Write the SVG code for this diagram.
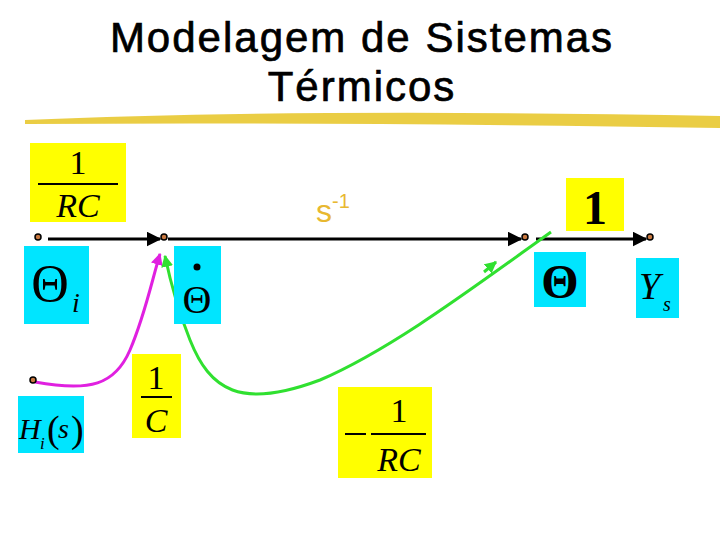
<svg xmlns="http://www.w3.org/2000/svg" width="720" height="540" viewBox="0 0 720 540">
<style>
.t{font-family:"Liberation Sans",Arial,sans-serif;font-size:42px;letter-spacing:2px;text-anchor:middle;stroke:#000;stroke-width:0.7}
.m{font-family:"Liberation Serif","Times New Roman",serif;fill:#000}
.y{fill:#ffff00}.c{fill:#00e5ff}
.n{fill:#c87840;stroke:#000;stroke-width:1.5}
</style>
<defs>
<marker id="a" viewBox="0 0 10 10" refX="9" refY="5" markerWidth="5" markerHeight="5" orient="auto"><path d="M0,0L10,5L0,10z"/></marker>
<marker id="am" viewBox="0 0 10 10" refX="9" refY="5" markerWidth="4" markerHeight="4" orient="auto"><path d="M0,0L10,5L0,10z" fill="#e020e0"/></marker>
<marker id="ag" viewBox="0 0 10 10" refX="9" refY="5" markerWidth="4" markerHeight="4" orient="auto"><path d="M0,0L10,5L0,10z" fill="#30e030"/></marker>
</defs>
<text class="t" x="362" y="52">Modelagem de Sistemas</text>
<text class="t" x="362" y="101">Térmicos</text>
<path d="M25,120 Q300,108 720,116 L720,128 Q350,122 25,124z" fill="#e8c830" opacity="0.9"/>
<g id="connectors">
<line x1="48" y1="239" x2="160" y2="239" stroke="#000" stroke-width="3" marker-end="url(#a)"/>
<line x1="168" y1="239" x2="521" y2="239" stroke="#000" stroke-width="3" marker-end="url(#a)"/>
<line x1="536" y1="239" x2="646" y2="239" stroke="#000" stroke-width="3" marker-end="url(#a)"/>
<path d="M35,382 C90,392 115,385 130,350 C145,315 152,280 160,254" fill="none" stroke="#e020e0" stroke-width="3" marker-end="url(#am)"/>
<path d="M551,232 C470,290 390,350 320,380 C240,410 210,390 190,340 C178,310 170,280 165,256" fill="none" stroke="#30e030" stroke-width="3" marker-end="url(#ag)"/>
<path d="M484,272 L496,262" stroke="#30e030" stroke-width="3" marker-end="url(#ag)"/>
</g>
<g id="g1"><rect class="y" x="30" y="143" width="96" height="79"/><text class="m" x="78" y="174" font-size="34" text-anchor="middle">1</text><line x1="38" y1="184" x2="118" y2="184" stroke="#000" stroke-width="2"/><text class="m" x="78" y="217" font-size="34" font-style="italic" text-anchor="middle">RC</text></g>
<g id="s"><text x="333" y="222" font-family="Liberation Sans,Arial,sans-serif" font-size="32" fill="#e8b830" text-anchor="middle">s<tspan dy="-14" font-size="20">-1</tspan></text></g>
<g id="g2"><rect class="y" x="566" y="178" width="58" height="53"/><text class="m" x="595" y="224" font-size="48" font-weight="bold" text-anchor="middle">1</text></g>
<g id="n1"><circle class="n" cx="38" cy="237" r="3"/></g>
<g id="n2"><circle class="n" cx="164" cy="237" r="3"/></g>
<g id="n3"><circle class="n" cx="525" cy="237" r="3"/></g>
<g id="n4"><circle class="n" cx="650" cy="237" r="3"/></g>
<g id="n5"><circle class="n" cx="33" cy="380" r="3"/></g>
<g id="ti"><rect class="c" x="24" y="246" width="65" height="78"/><text class="m" x="50" y="301" font-size="52" text-anchor="middle">Θ</text><text class="m" x="72" y="312" font-size="28" font-style="italic">i</text></g>
<g id="td"><rect class="c" x="174" y="246" width="47" height="78"/><circle cx="197" cy="267" r="3.5"/><text class="m" x="197" y="313" font-size="40" text-anchor="middle">Θ</text></g>
<g id="th"><rect class="c" x="534" y="252" width="52" height="55"/><text class="m" x="560" y="298" font-size="48" font-weight="bold" text-anchor="middle">Θ</text></g>
<g id="ys"><rect class="c" x="636" y="258" width="43" height="60"/><text class="m" x="639" y="299" font-size="38" font-style="italic">Y</text><text class="m" x="663" y="311" font-size="20" font-style="italic">s</text></g>
<g id="c"><rect class="y" x="132" y="354" width="49" height="84"/><text class="m" x="156" y="389" font-size="34" text-anchor="middle">1</text><line x1="141" y1="397" x2="172" y2="397" stroke="#000" stroke-width="2"/><text class="m" x="156" y="432" font-size="34" font-style="italic" text-anchor="middle">C</text></g>
<g id="hi"><rect class="c" x="18" y="396" width="66" height="57"/><text class="m" x="19" y="439" font-size="30" font-style="italic">H</text><text class="m" x="40" y="449" font-size="17" font-style="italic">i</text><text class="m" x="47" y="442" font-size="38">(</text><text class="m" x="58" y="438" font-size="28" font-style="italic">s</text><text class="m" x="71" y="442" font-size="38">)</text></g>
<g id="rc"><rect class="y" x="338" y="387" width="94" height="91"/><line x1="345" y1="434" x2="366" y2="434" stroke="#000" stroke-width="2"/><text class="m" x="399" y="422" font-size="34" text-anchor="middle">1</text><line x1="371" y1="434" x2="426" y2="434" stroke="#000" stroke-width="2"/><text class="m" x="399" y="471" font-size="34" font-style="italic" text-anchor="middle">RC</text></g>
</svg>
